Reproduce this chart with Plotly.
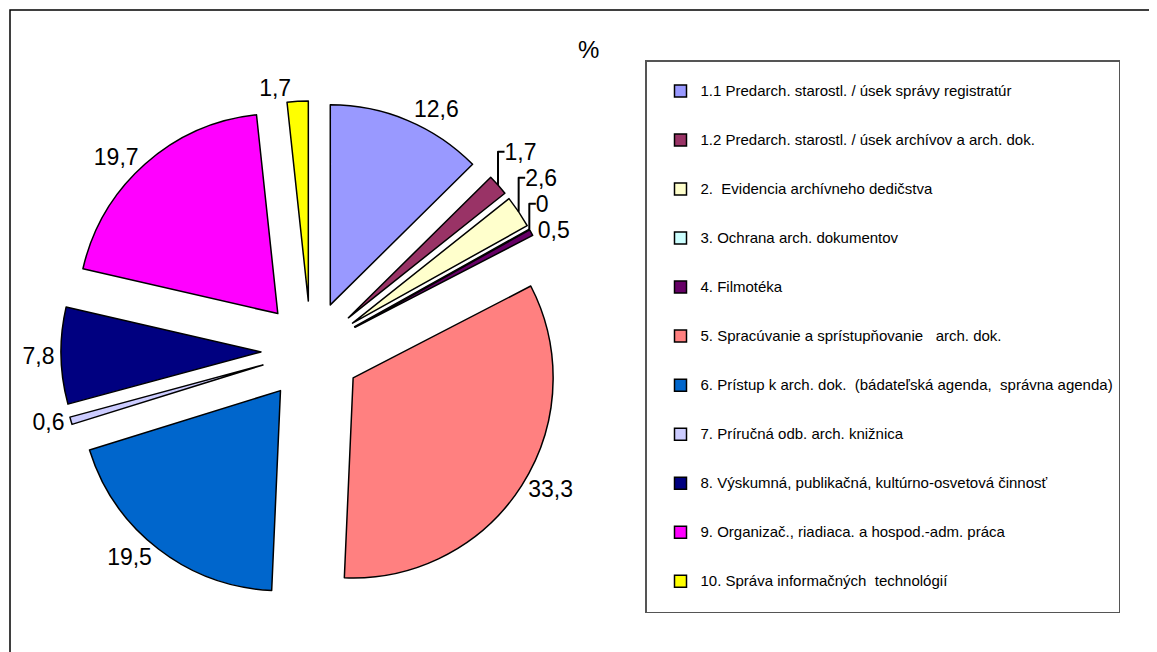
import plotly.graph_objects as go

categories = [
    "1.1 Predarch. starostl. / úsek správy registratúr",
    "1.2 Predarch. starostl. / úsek archívov a arch. dok.",
    "2.  Evidencia archívneho dedičstva",
    "3. Ochrana arch. dokumentov",
    "4. Filmotéka",
    "5. Spracúvanie a sprístupňovanie   arch. dok.",
    "6. Prístup k arch. dok.  (bádateľská agenda,  správna agenda)",
    "7. Príručná odb. arch. knižnica",
    "8. Výskumná, publikačná, kultúrno-osvetová činnosť",
    "9. Organizač., riadiaca. a hospod.-adm. práca",
    "10. Správa informačných  technológií",
]
values = [12.6, 1.7, 2.6, 0, 0.5, 33.3, 19.5, 0.6, 7.8, 19.7, 1.7]
colors = ["#9999FF", "#993366", "#FFFFCC", "#CCFFFF", "#660066", "#FF8080",
          "#0066CC", "#CCCCFF", "#000080", "#FF00FF", "#FFFF00"]

W, H = 1157, 652
OFF = 8  # page body margin
FONT = "Arial, Liberation Sans, sans-serif"

labels_txt = [f"{v:g}".replace(".", ",") for v in values]
legend_labels = [" <br><span style=\"font-size:15px\">" + c.replace("  ", "\u00a0\u00a0")
                 + "</span><br> " for c in categories]


def px_x(x):
    return (x - OFF) / W


def px_y(y):
    return 1 - (y - OFF) / H


# pie box (pixels) -> domain
cx, cy, box = 311, 351, 500
fig = go.Figure(go.Pie(
    labels=legend_labels,
    values=values,
    text=labels_txt,
    textinfo="text",
    textposition="outside",
    textfont=dict(family=FONT, size=23, color="black"),
    sort=False,
    direction="clockwise",
    rotation=0,
    pull=[0.25] * len(values),
    marker=dict(colors=colors, line=dict(color="black", width=1.5)),
    domain=dict(x=[px_x(cx - box / 2), px_x(cx + box / 2)],
                y=[px_y(cy + box / 2), px_y(cy - box / 2)]),
    showlegend=True,
    hoverinfo="none",
))

fig.update_layout(
    width=W, height=H,
    margin=dict(l=0, r=0, t=0, b=0, autoexpand=False),
    paper_bgcolor="white",
    font=dict(family=FONT, color="black"),
    legend=dict(
        x=px_x(645), y=px_y(60), xanchor="left", yanchor="top",
        bordercolor="#555555", borderwidth=1.5, bgcolor="white",
        font=dict(family=FONT, size=11.8, color="black"),
        indentation=14,
        itemclick=False, itemdoubleclick=False,
    ),
    annotations=[dict(text="%", x=px_x(588), y=px_y(50), xref="paper", yref="paper",
                      xanchor="center", yanchor="middle",
                      showarrow=False, font=dict(family=FONT, size=24, color="black"))],
    shapes=[dict(type="rect", xref="paper", yref="paper",
                 x0=px_x(10), x1=1.02, y0=-0.02, y1=px_y(10),
                 line=dict(color="black", width=1.5))],
)

fig.write_html("out.html")
